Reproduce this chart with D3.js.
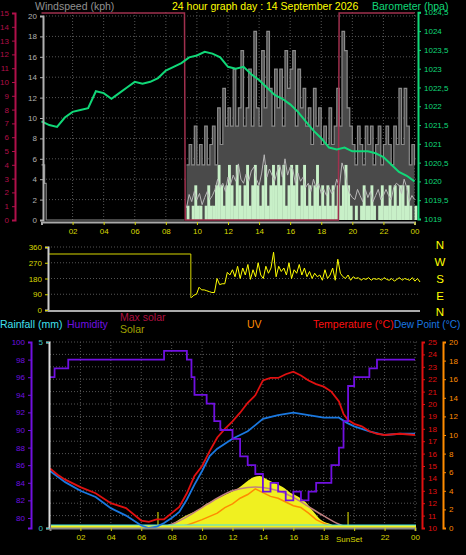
<!DOCTYPE html>
<html><head><meta charset="utf-8">
<script src="https://cdn.jsdelivr.net/npm/d3@7"></script>
<style>body{margin:0;background:#000}svg{display:block;font-family:"Liberation Sans",Arial,sans-serif}</style>
</head><body><svg id="c" width="466" height="555"></svg>
<script>
// ---------- DATA ----------
const hourLabels = ["02","04","06","08","10","12","14","16","18","20","22","00"];
const hourTicks = [2,4,6,8,10,12,14,16,18,20,22,24];
const baroTimes = d3.range(0,24.01,0.5);
const baroValues = [1021.6,1021.5,1021.45,1021.7,1021.85,1021.9,1021.95,1022.4,1022.35,1022.2,1022.35,1022.5,1022.65,1022.6,1022.65,1022.75,1022.95,1023.05,1023.15,1023.3,1023.35,1023.45,1023.4,1023.3,1023.05,1023.0,1023.05,1022.85,1022.7,1022.5,1022.3,1022.2,1022.05,1021.85,1021.6,1021.35,1021.15,1020.9,1020.85,1020.9,1020.8,1020.8,1020.8,1020.75,1020.65,1020.45,1020.25,1020.15,1020.0];
// wind from 09:20 every 10 minutes
const windStart = 9 + 20/60;
const gustValues = [5.4,7.4,5.4,9.2,5.4, 7.4,5.4,9.2,5.4,7.4,9.2, 5.4,11,7.4,12.9,9.2,11, 9.2,14.8,9.2,11,16.6,9.2, 11,14.8,9.2,18.5,11,9.2, 16.6,11,18.5,12.9,9.2,14.8, 11,14.8,9.2,16.6,12.9,14.8, 16.6,9.2,14.8,11,12.9,9.2, 11,7.4,12.9,9.2,11,7.4, 9.2,7.4,11,7.4,9.2,12.9, 9.2,18.5,16.6,11,9.2,7.4, 5.4,9.2,7.4,5.4,9.2,7.4, 9.2,5.4,7.4,9.2,5.4,7.4, 9.2,7.4,5.4,9.2,7.4,12.9, 7.4,12.9,9.2,5.4,7.4,5.4];
const speedValues = [1.4,0,1.4,3.4,1.4, 1.4,0,1.4,3.4,1.4,1.4, 3.4,5.4,3.4,1.4,3.4,5.4, 3.4,1.4,5.4,3.4,1.4,3.4, 5.4,1.4,3.4,5.4,3.4,1.4, 3.4,5.4,1.4,3.4,5.4,3.4, 5.4,3.4,5.4,1.4,3.4,5.4, 3.4,5.4,1.4,3.4,5.4,1.4, 3.4,1.4,3.4,5.4,1.4,3.4, 1.4,3.4,1.4,3.4,1.4,3.4, 1.4,3.4,5.4,3.4,1.4,0, 1.4,0,1.4,3.4,1.4,1.4, 3.4,1.4,0,1.4,3.4,1.4, 1.4,3.4,1.4,3.4,1.4,3.4, 3.4,1.4,3.4,1.4,0,1.4];
const avgValues = [1.2,2.5,1.8,2.8,2.0, 2.6,1.5,2.2,2.8,2.0,2.4, 3.0,4.0,3.2,3.6,2.8,4.2, 3.5,4.4,3.8,5.5,4.0,3.6, 4.5,3.8,4.8,5.2,4.0,3.4, 4.6,6.4,4.2,5.0,4.4,3.8, 4.8,5.4,4.2,6.0,4.4,5.2, 5.0,3.6,4.6,3.8,4.2,3.2, 3.6,2.8,4.0,3.2,3.6,2.6, 3.0,2.4,3.2,2.6,3.0,4.0, 3.2,5.6,4.8,3.4,2.6,2.2, 2.0,3.0,2.4,1.8,3.0,2.2, 2.8,1.8,2.4,3.0,2.0,2.4, 3.0,2.4,2.0,3.2,3.6,3.4, 2.6,4.0,3.2,1.8,2.4,2.0];
const nightGustTimes = [0,0.1,0.2,0.3,0.4,9.2];
const nightGustValues = [5.4,5.4,3.6,0,0,0];
const redStepTimes = [0,9.2,9.25,19.1,19.15,24];
const redStepValues = [15,15,0,0,15,15];
const dirValues = [70,85,90,130,115,115, 110,105,100,100,180,145, 150,150,215,200,230,190, 250,180,240,200,260,175, 230,190,270,200,180,250, 210,240,330,190,250,220, 240,200,270,180,230,210, 260,200,240,190,220,180, 210,190,200,170,230,180, 200,240,170,290,210,190, 180,200,170,190,180,185, 170,180,175,185,170,180, 175,180,170,185,175,170, 180,165,175,185,170,180, 175,170,185,165,180,160];
const dirNightTimes = [0,9.2];
const dirNightValues = [320,320];
const humTimes = [0,0.3,1.2,7.5,9.0,9.3,9.5,10.3,10.8,11.2,12,12.5,13,13.5,14,14.5,15,15.5,16,16.5,17,17.5,18,18.5,19,19.3,19.6,20,21,21.5,24];
const humValues = [96,97,98,99,98,96,94,93,91,90,89,87,86,85,83,84,83,82,83,82,83,84,84,86,88,91,95,96,97,98,98];
const tempTimes = [0,0.5,1,2,3,4,5,6,6.5,7,7.5,8,8.5,9,9.5,10,10.5,11,11.5,12,12.5,13,13.5,14,14.5,15,15.5,16,16.5,17,17.5,18,18.5,19,19.3,19.6,20,20.5,21,21.5,22,23,24];
const tempValues = [14.8,14.3,13.9,13.3,12.8,12.0,11.6,10.6,10.5,10.7,10.7,11.2,11.7,12.8,14.2,15.0,16.2,17.3,18.0,18.6,19.3,20.1,20.7,21.9,22.1,22.1,22.4,22.6,22.3,21.9,21.6,21.4,21.0,20.2,19.2,18.7,18.4,18.2,17.8,17.6,17.5,17.6,17.5];
const dewTimes = [0,1,2,3,4,5,6,6.5,7,7.5,8,8.5,9,9.5,10,10.5,11,11.5,12,12.5,13,13.5,14,15,16,17,18,19,19.5,20,21,22,23,24];
const dewValues = [14.6,13.7,13.0,12.5,11.6,11.0,10.2,10.0,10.1,10.4,10.8,11.3,12.3,13.5,14.6,15.8,16.4,16.8,17.2,17.5,17.8,18.3,18.8,19.1,19.3,19.1,18.9,18.9,18.5,18.2,17.8,17.5,17.6,17.6];
const maxSolarTimes = [7.2,8,9,10,11,12,13,13.5,14,15,16,17,18,19,19.6];
const maxSolarValues = [0,20,60,110,160,200,218,220,218,200,165,115,65,20,0];
const solarTimes = [7.3,7.8,8.3,8.8,9.3,9.8,10.3,10.8,11.3,11.8,12.3,12.8,13.3,13.8,14.3,14.8,15.3,15.8,16.3,16.8,17.3,17.8,18.3,18.8,19.3];
const solarValues = [5,15,35,60,80,100,130,150,170,190,210,240,270,280,260,240,220,190,170,140,90,45,25,10,0];
const uvTimes = [8,9,10,11,11.5,12,12.5,13,13.5,14,14.5,15,15.5,16,16.5,17,17.5,18,18.5,19];
const uvValues = [0,0.3,0.9,1.6,2.2,2.6,3.2,3.6,4.2,3.8,3.4,3.2,2.8,2.4,2.2,1.6,0.9,0.5,0.2,0];
const sunrise = 7.1, sunset = 19.6;

// ---------- DRAW ----------
const svg = d3.select("#c");
svg.append("rect").attr("width",466).attr("height",555).attr("fill","#000");
const F = 8;
const yel = "#d8d800";

function gridH(g, scale, vals, x0, x1){ vals.forEach(v=>g.append("line").attr("x1",x0).attr("x2",x1).attr("y1",scale(v)).attr("y2",scale(v)).attr("stroke","#555").attr("stroke-dasharray","1,2")); }
function gridV(g, scale, vals, y0, y1){ vals.forEach(v=>g.append("line").attr("y1",y0).attr("y2",y1).attr("x1",scale(v)).attr("x2",scale(v)).attr("stroke","#555").attr("stroke-dasharray","1,2")); }
function axis(gen, x, y, color, ticks, fmt, size){
  const g = svg.append("g").attr("transform",`translate(${x},${y})`)
    .call(gen.tickValues(ticks).tickFormat(fmt).tickSize(size||3));
  g.selectAll("text").attr("fill",color).style("font-size",F+"px");
  g.selectAll("line,path").attr("stroke",color);
  g.select("path").attr("stroke-width",2);
  return g;
}
function text(x,y,t,c,size,anchor){ svg.append("text").attr("x",x).attr("y",y).attr("fill",c).style("font-size",(size||11)+"px").attr("text-anchor",anchor||"start").text(t); }

// ===== TOP PANEL =====
const xT = d3.scaleLinear([0,24],[41.5,414.5]);
const ySp = d3.scaleLinear([0,20],[220,16]);
const yRd = d3.scaleLinear([0,15],[220,13]);
const yBa = d3.scaleLinear([1019,1024.5],[219,12.3]);
const gT = svg.append("g");
gridH(gT, ySp, d3.range(2,21,2), 43, 418);
gridV(gT, xT, hourTicks, 12, 222);
const wt = speedValues.map((d,i)=>windStart+i/6);
const stepLine = (xs,ys,x,y)=>d3.line().x((d,i)=>x(xs[i])).y(d=>y(d)).curve(d3.curveStepAfter)(ys);
gT.append("path").attr("d",d3.area().x((d,i)=>xT(wt[i])).y0(ySp(0)).y1(d=>ySp(d)).curve(d3.curveStepAfter)(gustValues)).attr("fill","#4a4a4a");
gT.selectAll(".sb").data(speedValues).join("rect")
  .attr("x",(d,i)=>xT(wt[i])).attr("width",xT(1/6)-xT(0)+0.3)
  .attr("y",d=>ySp(d)).attr("height",d=>ySp(0)-ySp(d)).attr("fill","#c8f0c8");
gT.append("path").attr("d",stepLine(wt,gustValues,xT,ySp)).attr("fill","none").attr("stroke","#8a8a8a").attr("stroke-width",1.2);
gT.append("path").attr("d",stepLine(nightGustTimes,nightGustValues,xT,ySp)).attr("fill","none").attr("stroke","#8a8a8a").attr("stroke-width",1.2);
gT.append("path").attr("d",d3.line().x((d,i)=>xT(wt[i])).y(d=>ySp(d))(avgValues)).attr("fill","none").attr("stroke","#b8b8b8").attr("stroke-width",1);
gT.append("path").attr("d",d3.line().x((d,i)=>xT(redStepTimes[i])).y(d=>yRd(d))(redStepValues)).attr("fill","none").attr("stroke","#a0304e").attr("stroke-width",1.5);
gT.append("path").attr("d",d3.line().x((d,i)=>xT(baroTimes[i])).y(d=>yBa(d))(baroValues)).attr("fill","none").attr("stroke","#10d878").attr("stroke-width",2);
axis(d3.axisLeft(yRd),15,0,"#b0104a",d3.range(0,16),d3.format("d"));
axis(d3.axisLeft(ySp),43,0,"#b0b0b0",d3.range(0,21,2),d3.format("d"));
axis(d3.axisRight(yBa),418,0,"#10d878",d3.range(1019,1024.6,0.5),d=>String(d).replace(".",","));
const xa = axis(d3.axisBottom(xT),0,222,yel,hourTicks,(d,i)=>hourLabels[i],3);
xa.select("path").attr("stroke","#aaa");
text(35,10,"Windspeed (kph)","#909090",10.5);
text(172,10,"24 hour graph day : 14 September 2026","#ffff00",10.5);
text(372,10,"Barometer (hpa)","#10d878",10.5);

// ===== MIDDLE PANEL =====
const xM = d3.scaleLinear([0,24],[49,419]);
const yDi = d3.scaleLinear([0,360],[310,247]);
const gM = svg.append("g");
gridH(gM, yDi, [90,180,270,360], 48, 420);
gM.append("path").attr("d",d3.line().x((d,i)=>xM(dirNightTimes[i])).y(d=>yDi(d))(dirNightValues)).attr("fill","none").attr("stroke",yel);
const dt = dirValues.map((d,i)=>windStart-0.1+i/6);
gM.append("line").attr("x1",xM(9.2)).attr("x2",xM(9.2)).attr("y1",yDi(320)).attr("y2",yDi(70)).attr("stroke",yel);
gM.append("path").attr("d",d3.line().x((d,i)=>xM(dt[i])).y(d=>yDi(d))(dirValues)).attr("fill","none").attr("stroke","#ffff00").attr("stroke-width",1);
axis(d3.axisLeft(yDi),48,0,yel,[0,90,180,270,360],d3.format("d")).select("path").attr("stroke","#ccc");
svg.append("line").attr("x1",48).attr("x2",420).attr("y1",311).attr("y2",311).attr("stroke","#aaa").attr("stroke-width",2);
["N","W","S","E","N"].forEach((t,i)=>text(440,[249,266,283,300,316][i],t,"#ffff00",11.5,"middle"));

// ===== BOTTOM PANEL =====
const xB = d3.scaleLinear([0,24],[50,415]);
const yHu = d3.scaleLinear([78.86,100],[528,342]);
const yTe = d3.scaleLinear([10,25],[528,342]);
const yUv = d3.scaleLinear([0,20],[528,342]);
const yRa = d3.scaleLinear([0,5],[528,342]);
const ySo = d3.scaleLinear([0,1000],[528,342]);
const gB = svg.append("g");
gridH(gB, yTe, d3.range(11,26), 50, 418);
gridV(gB, xB, hourTicks, 342, 528);
gB.append("path").attr("d",d3.area().x((d,i)=>xB(solarTimes[i])).y0(yUv(0)).y1(d=>ySo(d)).curve(d3.curveMonotoneX)(solarValues)).attr("fill","#f0f020");
gB.append("path").attr("d",d3.line().x((d,i)=>xB(uvTimes[i])).y(d=>yUv(d))(uvValues)).attr("fill","none").attr("stroke","#ff8c00").attr("stroke-width",1.5);
gB.append("path").attr("d",d3.line().x((d,i)=>xB(maxSolarTimes[i])).y(d=>ySo(d)).curve(d3.curveMonotoneX)(maxSolarValues)).attr("fill","none").attr("stroke","#c08080").attr("stroke-width",1.5);
[sunrise,sunset].forEach(s=>gB.append("line").attr("x1",xB(s)).attr("x2",xB(s)).attr("y1",512).attr("y2",528).attr("stroke","#a0a000").attr("stroke-width",1.5));
gB.append("rect").attr("x",51).attr("y",yRa(0)-3).attr("width",365).attr("height",3).attr("fill","#f0f020");
gB.append("line").attr("x1",51).attr("x2",416).attr("y1",yRa(0)-3).attr("y2",yRa(0)-3).attr("stroke","#40e0f0").attr("stroke-width",1.2);
gB.append("path").attr("d",d3.line().x((d,i)=>xB(dewTimes[i])).y(d=>yTe(d))(dewValues)).attr("fill","none").attr("stroke","#1a78e0").attr("stroke-width",1.8);
gB.append("path").attr("d",d3.line().x((d,i)=>xB(tempTimes[i])).y(d=>yTe(d))(tempValues)).attr("fill","none").attr("stroke","#e01010").attr("stroke-width",1.8);
gB.append("path").attr("d",stepLine(humTimes,humValues,xB,yHu)).attr("fill","none").attr("stroke","#7010e0").attr("stroke-width",1.8);
axis(d3.axisLeft(yHu),31,0,"#7010e0",d3.range(80,101,2),d3.format("d"));
axis(d3.axisLeft(yRa),49,0,"#40c0c0",[0,5],d3.format("d")).select("path").attr("stroke","#ddd");
axis(d3.axisRight(yTe),422,0,"#e01010",d3.range(10,26),d3.format("d"));
axis(d3.axisRight(yUv),443,0,"#ff8c00",d3.range(0,21,2),d3.format("d"));
const xb = axis(d3.axisBottom(xB),0,528,yel,hourTicks,(d,i)=>hourLabels[i],3);
xb.select("path").attr("stroke","#888");
xb.selectAll(".tick").filter(d=>d===20).select("text").text("");
text(xB(sunset)+1,542,"SunSet",yel,F,"middle");
text(0,328,"Rainfall (mm)","#40e0f0",10.5);
text(67,328,"Humidity","#7010e0",10.5);
text(120,321,"Max solar","#b01040",10.5);
text(120,333,"Solar","#a0a000",10.5);
text(247,328,"UV","#ff8c00",10.5);
text(313,328,"Temperature (°C)","#ff1010",10.5);
text(394,328,"Dew Point (°C)","#1a78e0",10);
</script></body></html>
